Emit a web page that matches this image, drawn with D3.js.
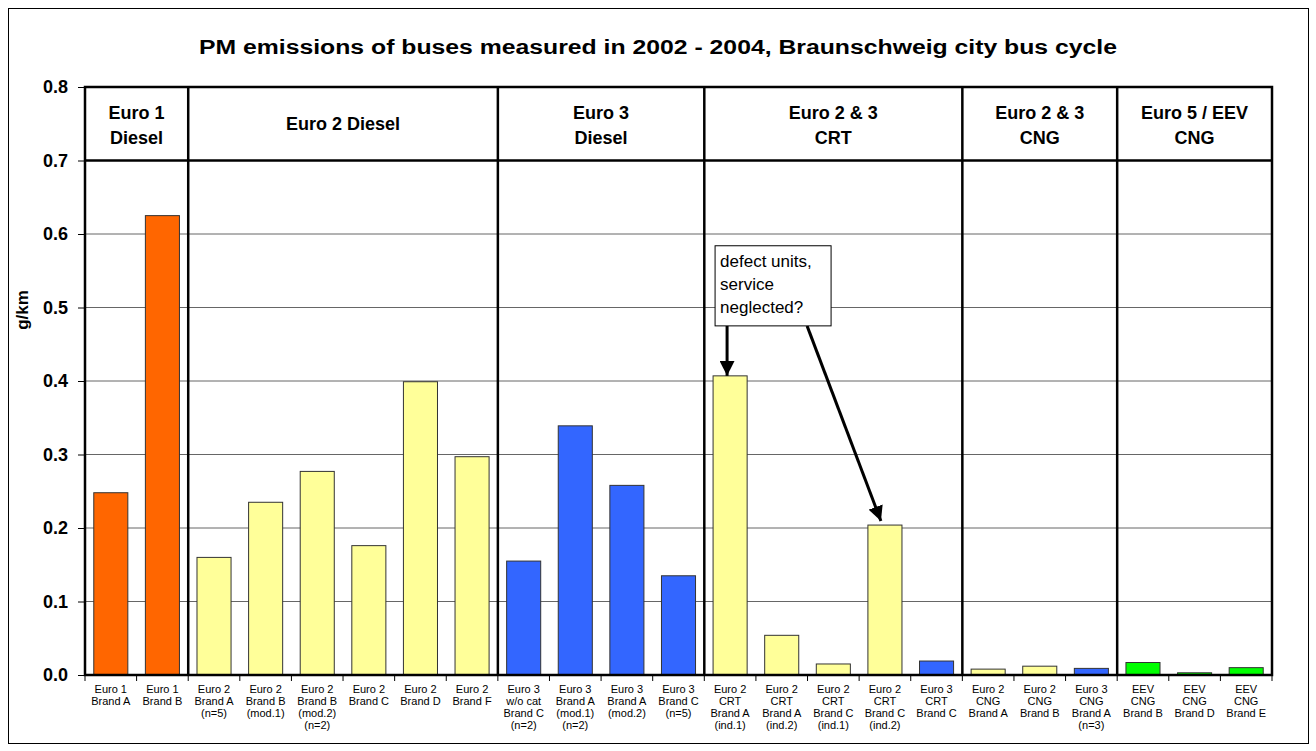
<!DOCTYPE html>
<html>
<head>
<meta charset="utf-8">
<script src="https://cdn.jsdelivr.net/npm/d3@7"></script>
<style>
  body { margin: 0; background: #fff; }
  svg text { font-family: "Liberation Sans", Arial, sans-serif; }
</style>
</head>
<body>
<script>
// bar labels, one entry per line
var labels = [
  ["Euro 1", "Brand A"], ["Euro 1", "Brand B"],
  ["Euro 2", "Brand A", "(n=5)"], ["Euro 2", "Brand B", "(mod.1)"], ["Euro 2", "Brand B", "(mod.2)", "(n=2)"],
  ["Euro 2", "Brand C"], ["Euro 2", "Brand D"], ["Euro 2", "Brand F"],
  ["Euro 3", "w/o cat", "Brand C", "(n=2)"], ["Euro 3", "Brand A", "(mod.1)", "(n=2)"], ["Euro 3", "Brand A", "(mod.2)"], ["Euro 3", "Brand C", "(n=5)"],
  ["Euro 2", "CRT", "Brand A", "(ind.1)"], ["Euro 2", "CRT", "Brand A", "(ind.2)"], ["Euro 2", "CRT", "Brand C", "(ind.1)"], ["Euro 2", "CRT", "Brand C", "(ind.2)"], ["Euro 3", "CRT", "Brand C"],
  ["Euro 2", "CNG", "Brand A"], ["Euro 2", "CNG", "Brand B"], ["Euro 3", "CNG", "Brand A", "(n=3)"],
  ["EEV", "CNG", "Brand B"], ["EEV", "CNG", "Brand D"], ["EEV", "CNG", "Brand E"]
];
var values = [0.248, 0.625,
  0.160, 0.235, 0.277, 0.176, 0.399, 0.297,
  0.155, 0.339, 0.258, 0.135,
  0.407, 0.054, 0.015, 0.204, 0.019,
  0.008, 0.012, 0.009,
  0.017, 0.003, 0.010];
var fuel = ["d", "d", "y", "y", "y", "y", "y", "y", "b", "b", "b", "b",
  "y", "y", "y", "y", "b", "y", "y", "b", "g", "g", "g"];
var groups = [["Euro 1", "Diesel"], ["Euro 2 Diesel"], ["Euro 3", "Diesel"], ["Euro 2 & 3", "CRT"], ["Euro 2 & 3", "CNG"], ["Euro 5 / EEV", "CNG"]];
var groupSizes = [2, 6, 4, 5, 3, 3];
var yTicks = [0, 0.1, 0.2, 0.3, 0.4, 0.5, 0.6, 0.7, 0.8];
var colors = {d: "#FF6600", y: "#FFFF99", b: "#3366FF", g: "#00FF00"};

var W = 1316, H = 751;
var svg = d3.select("body").append("svg").attr("width", W).attr("height", H);

// outer frame
svg.append("rect").attr("x", 8.5).attr("y", 8.5).attr("width", 1300).attr("height", 735)
  .attr("fill", "#fff").attr("stroke", "#000").attr("stroke-width", 1);

svg.append("text").attr("x", 658).attr("y", 54).attr("text-anchor", "middle")
  .attr("textLength", 918).attr("lengthAdjust", "spacingAndGlyphs")
  .style("font-size", "20px").style("font-weight", "bold")
  .text("PM emissions of buses measured in 2002 - 2004, Braunschweig city bus cycle");

var pLeft = 85, pRight = 1272, pTop = 87, pBottom = 675;
var x = d3.scaleBand().domain(d3.range(values.length)).range([pLeft, pRight]).paddingInner(0.34).paddingOuter(0.17);
var y = d3.scaleLinear().domain([0, 0.8]).range([pBottom, pTop]);
var step = x.step();

// gridlines
svg.append("g").selectAll("line").data(yTicks.filter(function (t) { return t > 0 && t < 0.7; }))
  .enter().append("line")
  .attr("x1", pLeft).attr("x2", pRight).attr("y1", function (d) { return y(d); }).attr("y2", function (d) { return y(d); })
  .attr("stroke", "#666").attr("stroke-width", 1);

// y axis
var yAxis = svg.append("g").attr("transform", "translate(" + pLeft + ",0)")
  .call(d3.axisLeft(y).tickValues(yTicks).tickFormat(d3.format(".1f")).tickSize(7).tickPadding(10));
yAxis.select(".domain").remove();
yAxis.selectAll("line").attr("stroke", "#000");
yAxis.selectAll("text").style("font-size", "18px").style("font-weight", "bold")
  .style("font-family", "Liberation Sans, Arial, sans-serif");

svg.append("text").attr("transform", "translate(28,310) rotate(-90)")
  .attr("text-anchor", "middle").style("font-size", "17px").style("font-weight", "bold").text("g/km");

// bars
svg.append("g").selectAll("rect").data(values).enter().append("rect")
  .attr("x", function (d, i) { return x(i); })
  .attr("y", function (d) { return y(d); })
  .attr("width", x.bandwidth())
  .attr("height", function (d) { return y(0) - y(d); })
  .attr("fill", function (d, i) { return colors[fuel[i]]; })
  .attr("stroke", "#333").attr("stroke-width", 1);

// x tick marks at category boundaries
svg.append("g").selectAll("line").data(d3.range(values.length + 1)).enter().append("line")
  .attr("x1", function (i) { return pLeft + i * step; }).attr("x2", function (i) { return pLeft + i * step; })
  .attr("y1", pBottom).attr("y2", pBottom + 6).attr("stroke", "#000");

// x labels
var lab = svg.append("g").selectAll("text").data(labels).enter().append("text")
  .attr("x", function (d, i) { return x(i) + x.bandwidth() / 2; })
  .attr("y", 693).attr("text-anchor", "middle").style("font-size", "11px");
lab.selectAll("tspan").data(function (d) { return d; }).enter().append("tspan")
  .attr("x", function () { return d3.select(this.parentNode).attr("x"); })
  .attr("dy", function (d, j) { return j === 0 ? 0 : 12; })
  .text(function (d) { return d; });

// group header row and separators
var bounds = [0];
groupSizes.forEach(function (n, i) { bounds.push(bounds[i] + n); });
var frame = svg.append("g").attr("stroke", "#000").attr("stroke-width", 2.5);
frame.append("rect").attr("x", pLeft).attr("y", pTop).attr("width", pRight - pLeft).attr("height", pBottom - pTop).attr("fill", "none");
frame.append("line").attr("x1", pLeft).attr("x2", pRight).attr("y1", y(0.7)).attr("y2", y(0.7));
frame.selectAll("line.sep").data(bounds.slice(1, -1)).enter().append("line").attr("class", "sep")
  .attr("x1", function (b) { return pLeft + b * step; }).attr("x2", function (b) { return pLeft + b * step; })
  .attr("y1", pTop).attr("y2", pBottom);

var head = svg.append("g").selectAll("text").data(groups).enter().append("text")
  .attr("x", function (d, i) { return pLeft + (bounds[i] + bounds[i + 1]) / 2 * step; })
  .attr("y", function (d) { return d.length === 1 ? (y(0.75) + 6) : (y(0.75) - 5); })
  .attr("text-anchor", "middle").style("font-size", "18px").style("font-weight", "bold");
head.selectAll("tspan").data(function (d) { return d; }).enter().append("tspan")
  .attr("x", function () { return d3.select(this.parentNode).attr("x"); })
  .attr("dy", function (d, j) { return j === 0 ? 0 : 25; })
  .text(function (d) { return d; });

// annotation
var bx0 = x(12) + 2, bx1 = bx0 + 116, by0 = y(0.584), by1 = y(0.475);
var defs = svg.append("defs");
defs.append("marker").attr("id", "ah").attr("viewBox", "0 0 10 10").attr("refX", 10).attr("refY", 5)
  .attr("markerWidth", 5).attr("markerHeight", 5).attr("orient", "auto")
  .append("path").attr("d", "M0,0 L10,5 L0,10 Z").attr("fill", "#000");
svg.append("line").attr("x1", x(12) + 14).attr("x2", x(12) + 14).attr("y1", by1).attr("y2", y(values[12]))
  .attr("stroke", "#000").attr("stroke-width", 3).attr("marker-end", "url(#ah)");
svg.append("line").attr("x1", bx0 + 92).attr("x2", x(15) + x.bandwidth() / 2 - 4).attr("y1", by1).attr("y2", y(values[15]) - 4)
  .attr("stroke", "#000").attr("stroke-width", 3).attr("marker-end", "url(#ah)");
svg.append("rect").attr("x", bx0).attr("y", by0).attr("width", bx1 - bx0).attr("height", by1 - by0)
  .attr("fill", "#fff").attr("stroke", "#000").attr("stroke-width", 1);
svg.append("text").attr("x", bx0 + 5).attr("y", by0 + 21).style("font-size", "17px")
  .selectAll("tspan").data(["defect units,", "service", "neglected?"]).enter().append("tspan")
  .attr("x", bx0 + 5).attr("dy", function (d, j) { return j === 0 ? 0 : 23; }).text(function (d) { return d; });
</script>
</body>
</html>
